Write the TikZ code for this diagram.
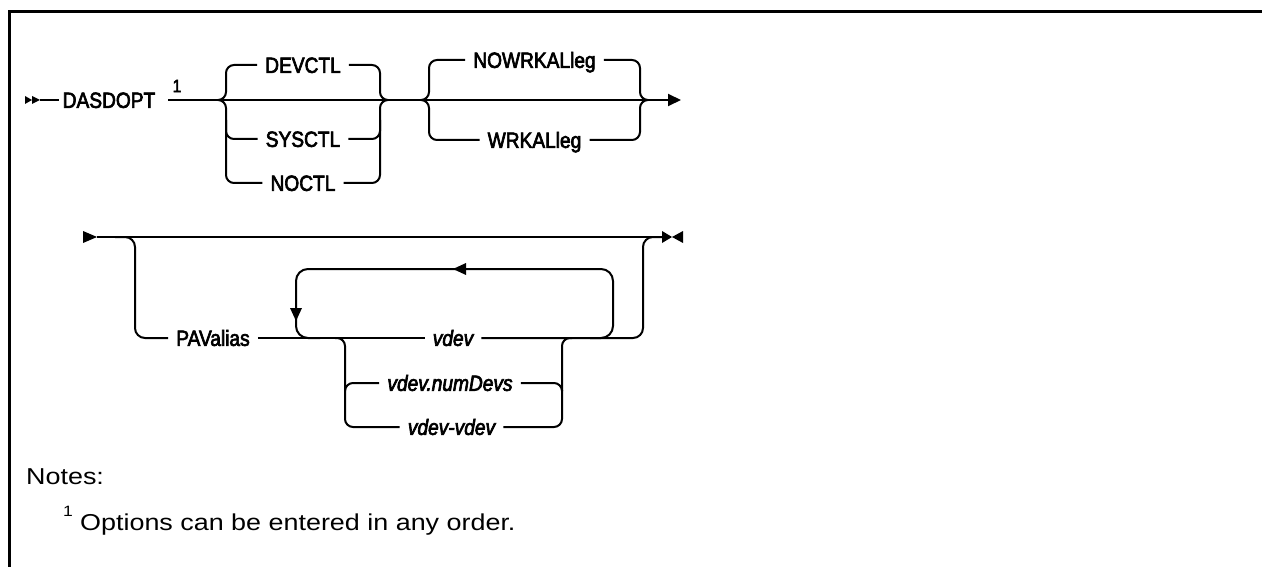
\documentclass[tikz,border=0pt]{standalone}
\usepackage{fontspec}
\usetikzlibrary{arrows.meta}
\newfontfamily\diafont{Liberation Sans}[FakeStretch=0.87,FakeBold=3]
\newfontfamily\notefont{Liberation Sans}[FakeStretch=1.17]
\begin{document}
\begin{tikzpicture}[x=1pt,y=-1pt,
  rail/.style={line width=2pt, rounded corners=8pt},
  lab/.style={font=\diafont\fontsize{22}{22}\selectfont, inner xsep=8pt, inner ysep=0pt, text height=15.75pt, text depth=0pt},
  ilab/.style={lab, font=\diafont\fontsize{22}{22}\selectfont\itshape},
  tipfill/.style={fill=black, draw=none},
  note/.style={font=\notefont\fontsize{23}{23}\selectfont, anchor=base west, inner sep=0pt}]
\useasboundingbox (0,0) rectangle (1262,567);
% frame
\draw[line width=3pt] (9.5,570) -- (9.5,11.7) -- (1265,11.7);

% ---------- row 1 ----------
\node[lab, inner xsep=4pt] (dasd) at (109,100) {DASDOPT};
\node[font=\diafont\fontsize{18}{18}\selectfont, inner sep=0pt] (fn) at (177,86) {1};
\fill[tipfill] (25,96) -- (32,100) -- (25,104) -- cycle;
\fill[tipfill] (32,96) -- (40,100) -- (32,104) -- cycle;
\coordinate (s1) at (40,100);
\draw[rail] (s1) -- (dasd.west);
\coordinate (m1) at (168,100);
\coordinate (e1) at (681,100);
\draw[line width=2pt, -{Triangle[length=13pt,width=12pt]}] (m1) -- (e1);

\node[lab] (devctl) at (303,65) {DEVCTL};
\node[lab] (sysctl) at (303,139) {SYSCTL};
\node[lab] (noctl) at (303,183) {NOCTL};
\draw[rail] (devctl.west) -| (226,100) -- (218,100);
\draw[rail] (218,100) -- (226,100) |- (noctl.west);
\draw[rail] (226,120) |- (sysctl.west);
\draw[rail] (devctl.east) -| (380,100) -- (388,100);
\draw[rail] (388,100) -- (380,100) |- (noctl.east);
\draw[rail] (380,120) |- (sysctl.east);

\node[lab] (nowrk) at (534.5,60) {NOWRKALleg};
\node[lab] (wrk) at (534.5,140) {WRKALleg};
\draw[rail] (nowrk.west) -| (429,100) -- (421,100);
\draw[rail] (421,100) -- (429,100) |- (wrk.west);
\draw[rail] (nowrk.east) -| (640,100) -- (648,100);
\draw[rail] (648,100) -- (640,100) |- (wrk.east);

% ---------- row 2 ----------
\fill[tipfill] (83,231) -- (97,237) -- (83,243) -- cycle;
\coordinate (s2) at (97,237);
\coordinate (e2) at (662,237);
\draw[line width=2pt] (s2) -- (e2);
\fill[tipfill] (662,231) -- (672,237) -- (662,243) -- cycle;
\fill[tipfill] (683,231) -- (672,237) -- (683,243) -- cycle;

\node[lab] (pav) at (213,338) {PAValias};
\node[ilab] (vdev) at (453,338) {vdev};
\node[ilab] (num) at (450,383) {vdev.numDevs};
\node[ilab] (vv) at (451.5,427) {vdev-vdev};

\draw[rail, rounded corners=10pt] (115,237) -| (135,338) -- (pav.west);
\draw[rail] (pav.east) -- (vdev.west);
\draw[rail, rounded corners=10pt] (vdev.east) -- (643,338) |- (662,237);

% repeat loop
\draw[rail, rounded corners=12pt] (590,338) -| (613,269) -| (296,338) -- (320,338);
\fill[tipfill] (453,269) -- (466,263) -- (466,275) -- cycle;
\fill[tipfill] (296,321) -- (290,308) -- (302,308) -- cycle;

% choice
\draw[rail] (335,338) -| (345,427) -- (vv.west);
\draw[rail] (345,390) |- (num.west);
\draw[rail] (vv.east) -| (562,338) -- (572,338);
\draw[rail] (562,390) |- (num.east);

% ---------- notes ----------
\node[note] (notes) at (26,484) {Notes:};
\node[note, font=\notefont\fontsize{15}{15}\selectfont] (n1) at (63,516) {1};
\node[note] (n1t) at (80,530) {Options can be entered in any order.};
\end{tikzpicture}
\end{document}
